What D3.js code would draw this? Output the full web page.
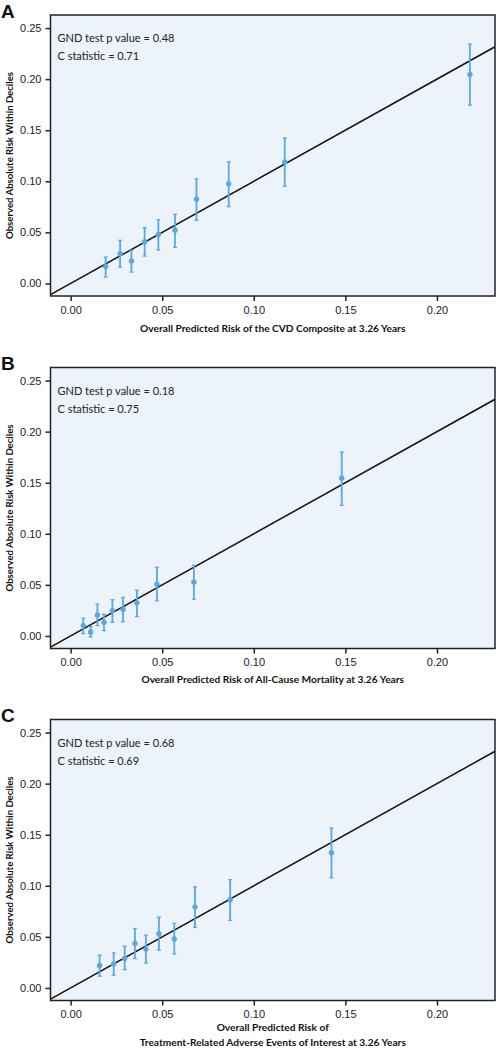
<!DOCTYPE html>
<html><head><meta charset="utf-8">
<script src="https://cdn.jsdelivr.net/npm/d3@7"></script>
<style>
body{margin:0;background:#fff;}
svg{display:block;font-family:Lato,"Open Sans",sans-serif;}
</style></head>
<body>
<svg id="c" width="496" height="1050"></svg>
<script>
const panelLetters = ["A", "B", "C"];
const statsP = ["GND test p value = 0.48", "GND test p value = 0.18", "GND test p value = 0.68"];
const statsC = ["C statistic = 0.71", "C statistic = 0.75", "C statistic = 0.69"];
const xTitles = [
  ["Overall Predicted Risk of the CVD Composite at 3.26 Years"],
  ["Overall Predicted Risk of All-Cause Mortality at 3.26 Years"],
  ["Overall Predicted Risk of", "Treatment-Related Adverse Events of Interest at 3.26 Years"]
];
const yTitle = "Observed Absolute Risk Within Deciles";
const xTicks = [0, 0.05, 0.10, 0.15, 0.20];
const yTicks = [0, 0.05, 0.10, 0.15, 0.20, 0.25];

// Panel A: CVD composite
const predA = [0.0191, 0.0270, 0.0332, 0.0404, 0.0479, 0.0570, 0.0687, 0.0863, 0.1169, 0.2180];
const obsA  = [0.0167, 0.0291, 0.0219, 0.0409, 0.0480, 0.0520, 0.0824, 0.0977, 0.1189, 0.2046];
const loA   = [0.0062, 0.0160, 0.0111, 0.0268, 0.0327, 0.0353, 0.0618, 0.0752, 0.0951, 0.1745];
const hiA   = [0.0258, 0.0422, 0.0324, 0.0546, 0.0624, 0.0676, 0.1023, 0.1190, 0.1425, 0.2343];
// Panel B: all-cause mortality
const predB = [0.0069, 0.0109, 0.0146, 0.0182, 0.0228, 0.0286, 0.0362, 0.0471, 0.0673, 0.1480];
const obsB  = [0.0101, 0.0039, 0.0206, 0.0134, 0.0246, 0.0259, 0.0324, 0.0507, 0.0527, 0.1544];
const loB   = [0.0023, -0.0010, 0.0101, 0.0052, 0.0134, 0.0138, 0.0190, 0.0344, 0.0360, 0.1278];
const hiB   = [0.0173, 0.0091, 0.0311, 0.0212, 0.0354, 0.0377, 0.0448, 0.0672, 0.0691, 0.1800];
// Panel C: treatment-related adverse events
const predC = [0.0158, 0.0235, 0.0295, 0.0351, 0.0411, 0.0482, 0.0566, 0.0679, 0.0871, 0.1424];
const obsC  = [0.0220, 0.0235, 0.0288, 0.0435, 0.0380, 0.0530, 0.0480, 0.0794, 0.0863, 0.1324];
const loC   = [0.0115, 0.0125, 0.0180, 0.0288, 0.0245, 0.0370, 0.0333, 0.0592, 0.0661, 0.1078];
const hiC   = [0.0320, 0.0343, 0.0409, 0.0582, 0.0517, 0.0693, 0.0634, 0.0990, 0.1060, 0.1566];

const panels = [
  {pred: predA, obs: obsA, lo: loA, hi: hiA},
  {pred: predB, obs: obsB, lo: loB, hi: hiB},
  {pred: predC, obs: obsC, lo: loC, hi: hiC}
];

const svg = d3.select("#c");
const left = 50.5, right = 495, h = 281;
const tops = [15, 367.5, 719.5];
const titleOffsets = [36, 34, 30.5];
const xDom = [-0.011, 0.2317], yDom = [-0.0123, 0.2628];
const ptColor = "#5ba8de", bg = "#ecf3fb";

panels.forEach((p, i) => {
  const top = tops[i];
  const g = svg.append("g");
  const x = d3.scaleLinear().domain(xDom).range([left, right]);
  const y = d3.scaleLinear().domain(yDom).range([top + h, top]);

  g.append("rect").attr("x", left).attr("y", top).attr("width", right - left).attr("height", h)
    .attr("fill", bg);

  // diagonal y = x
  const clipId = "clip" + i;
  g.append("clipPath").attr("id", clipId).append("rect")
    .attr("x", left).attr("y", top).attr("width", right - left).attr("height", h);
  g.append("line").attr("clip-path", `url(#${clipId})`)
    .attr("x1", x(xDom[0])).attr("y1", y(xDom[0])).attr("x2", x(xDom[1])).attr("y2", y(xDom[1]))
    .attr("stroke", "#111").attr("stroke-width", 1.5);

  // error bars
  const eg = g.append("g").attr("stroke", ptColor).attr("stroke-width", 1.8);
  p.pred.forEach((v, k) => {
    const cx = x(v);
    eg.append("line").attr("x1", cx).attr("x2", cx).attr("y1", y(p.lo[k])).attr("y2", y(p.hi[k]));
    eg.append("line").attr("x1", cx - 2).attr("x2", cx + 2).attr("y1", y(p.lo[k])).attr("y2", y(p.lo[k])).attr("stroke-width", 1.3);
    eg.append("line").attr("x1", cx - 2).attr("x2", cx + 2).attr("y1", y(p.hi[k])).attr("y2", y(p.hi[k])).attr("stroke-width", 1.3);
  });
  g.selectAll("circle.pt").data(p.pred).join("circle").attr("class", "pt")
    .attr("cx", d => x(d)).attr("cy", (d, k) => y(p.obs[k])).attr("r", 2.7).attr("fill", ptColor);

  // frame
  g.append("rect").attr("x", left).attr("y", top).attr("width", right - left).attr("height", h)
    .attr("fill", "none").attr("stroke", "#222").attr("stroke-width", 1.5);

  // axes
  const xa = g.append("g").attr("transform", `translate(0,${top + h})`)
    .call(d3.axisBottom(x).tickValues(xTicks).tickFormat(d3.format(".2f")).tickSize(5).tickSizeOuter(0));
  xa.select(".domain").remove();
  xa.selectAll("line").attr("stroke", "#222").attr("stroke-width", 1.5);
  xa.selectAll("text").attr("font-size", 11).attr("fill", "#222").attr("dy", "0.9em");

  const ya = g.append("g").attr("transform", `translate(${left},0)`)
    .call(d3.axisLeft(y).tickValues(yTicks).tickFormat(d3.format(".2f")).tickSize(5).tickSizeOuter(0));
  ya.select(".domain").remove();
  ya.selectAll("line").attr("stroke", "#222").attr("stroke-width", 1.5);
  ya.selectAll("text").attr("font-size", 11).attr("fill", "#222").attr("x", -9);

  // stats text
  g.append("text").attr("x", 57.5).attr("y", top + 27).attr("font-size", 11).attr("fill", "#222").text(statsP[i]);
  g.append("text").attr("x", 57.5).attr("y", top + 45).attr("font-size", 11).attr("fill", "#222").text(statsC[i]);

  // titles
  const cx = (left + right) / 2;
  xTitles[i].forEach((t, j) => {
    g.append("text").attr("x", cx).attr("y", top + h + titleOffsets[i] + j * 15).attr("text-anchor", "middle")
      .attr("font-size", 10.2).attr("font-weight", "bold").attr("fill", "#111").text(t);
  });
  g.append("text").attr("transform", `translate(13,${top + h / 2}) rotate(-90)`)
    .attr("text-anchor", "middle").attr("font-size", 9.6).attr("font-weight", "bold").attr("fill", "#111")
    .text(yTitle);

  g.append("text").attr("x", 1).attr("y", top + 2.5).attr("font-size", 19).attr("font-weight", "bold")
    .attr("font-family", "'Liberation Sans', Arial, sans-serif")
    .attr("fill", "#111").text(panelLetters[i]);
});
</script>
</body></html>
